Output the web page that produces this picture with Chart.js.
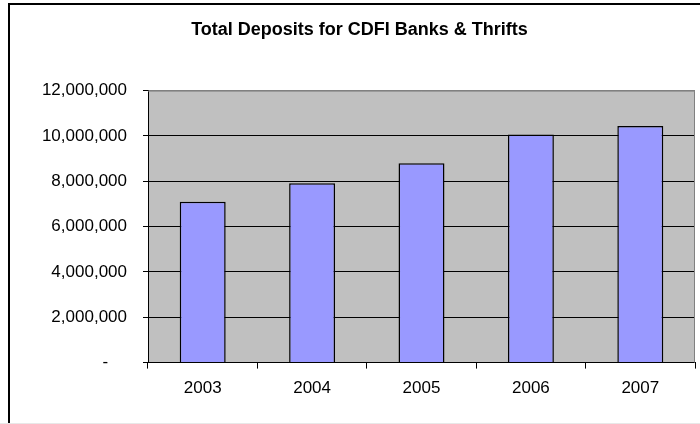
<!DOCTYPE html>
<html lang="en">
<head>
    <meta charset="UTF-8">
    <title>Total Deposits for CDFI Banks &amp; Thrifts</title>
    <script src="https://cdn.jsdelivr.net/npm/chart.js"></script>
    <style>
        body { margin: 0; background: #fff; }
        canvas { display: block; }
    </style>
</head>
<body>
    <canvas id="depositsChart" width="700" height="424"></canvas>

    <script>
        // chart data
        const years = ['2003', '2004', '2005', '2006', '2007'];
        const deposits = [7100000, 7910000, 8790000, 10060000, 10440000];
        const yTicks = [0, 2000000, 4000000, 6000000, 8000000, 10000000, 12000000];

        const font = 'Arial, "Liberation Sans", sans-serif';

        // grey plot area, frame round the picture
        const backdrop = {
            id: 'backdrop',
            beforeDraw(chart) {
                const { ctx, chartArea: a } = chart;
                ctx.save();
                ctx.fillStyle = '#000';
                ctx.fillRect(8, 3, 700, 2);
                ctx.fillRect(8, 3, 2, 424);
                ctx.fillStyle = '#e8e8e8';
                ctx.fillRect(0, 423, 700, 1);
                ctx.fillStyle = '#c0c0c0';
                ctx.fillRect(a.left, a.top, a.right - a.left, a.bottom - a.top);
                ctx.restore();
            },
            beforeDatasetsDraw(chart) {
                const { ctx, chartArea: a } = chart;
                ctx.save();
                ctx.strokeStyle = '#808080';
                ctx.lineWidth = 1;
                ctx.beginPath();
                ctx.moveTo(a.left, a.top + 0.5);
                ctx.lineTo(a.right - 0.5, a.top + 0.5);
                ctx.lineTo(a.right - 0.5, a.bottom);
                ctx.stroke();
                ctx.restore();
            }
        };

        new Chart(document.getElementById('depositsChart'), {
            type: 'bar',
            data: {
                labels: years,
                datasets: [{
                    data: deposits,
                    backgroundColor: '#9999ff',
                    borderColor: '#000',
                    borderWidth: 1.5,
                    barPercentage: 0.42,
                    categoryPercentage: 1
                }]
            },
            options: {
                responsive: false,
                devicePixelRatio: 1,
                animation: false,
                layout: { padding: { left: 24, right: 5, top: 0, bottom: 15 } },
                scales: {
                    x: {
                        grid: {
                            offset: true,
                            drawOnChartArea: false,
                            tickLength: 6,
                            tickColor: '#000'
                        },
                        border: { color: '#000', width: 1 },
                        ticks: {
                            padding: 10,
                            color: '#000',
                            font: { family: font, size: 17 }
                        }
                    },
                    y: {
                        min: 0,
                        max: 12000000,
                        afterBuildTicks: axis => {
                            axis.ticks = yTicks.map(v => ({ value: v }));
                        },
                        afterFit: axis => { axis.width = 124; },
                        grid: {
                            color: c => c.tick && c.tick.value === 12000000 ? '#808080' : '#000',
                            tickColor: '#000',
                            tickLength: 5,
                            lineWidth: 1
                        },
                        border: { color: '#000', width: 1 },
                        ticks: {
                            padding: 16,
                            color: '#000',
                            font: { family: font, size: 17 },
                            callback: v => v === 0 ? '-    ' : v.toLocaleString('en-US')
                        }
                    }
                },
                plugins: {
                    legend: { display: false },
                    tooltip: { enabled: false },
                    title: {
                        display: true,
                        text: 'Total Deposits for CDFI Banks & Thrifts',
                        color: '#000',
                        font: { family: font, size: 18, weight: 'bold' },
                        padding: { top: 19, bottom: 50 }
                    }
                }
            },
            plugins: [backdrop]
        });
    </script>
</body>
</html>
